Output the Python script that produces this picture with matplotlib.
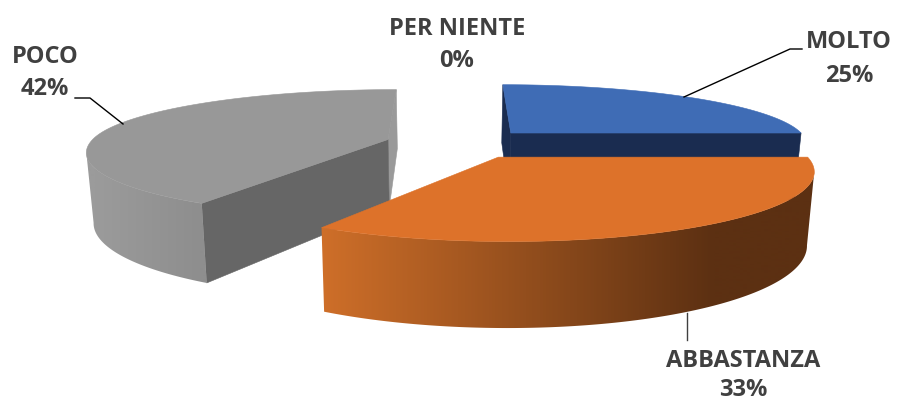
import numpy as np
import matplotlib.pyplot as plt
from matplotlib.colors import to_rgb, LinearSegmentedColormap
from matplotlib.patches import Polygon

categories = ['MOLTO', 'ABBASTANZA', 'POCO', 'PER NIENTE']
values = [25, 33.49, 41.51, 0.0]
percent_labels = ['25%', '33%', '42%', '0%']

top_colors = ['#3f6cb5', '#dd722a', '#989898']
inner_colors = ['#1a2c50', '#5c3012', '#666666']
back_colors = ['#1a2c50', '#5c3012', '#9a9a9a']
side_left = [None, '#cf6f29', '#9b9b9b']
side_right = [None, '#5c3012', '#8e8e8e']
# where the side gradient starts and stops, pixels
side_span = [None, (320, 715), (95, 200)]

# 3d look of the pie, all in pixels
vanish_x = 450
horizon = -236
ground = 436
center_x = 11
radius = 343
explode = 86
persp_back = 0.178
persp_front = 0.196
persp_base = 1.149
persp_explode = 0.046 / 86
height = 79
bottom_shrink = 0.98


def project(a, cos_part, shift_a, shift_b):
    # a is across, cos_part is +1 at the back of the circle
    k = np.where(cos_part > 0, persp_back, persp_front)
    w = persp_base + shift_b * persp_explode + cos_part * k
    s = 1 / w
    x = vanish_x + (center_x + shift_a + a * radius) * s
    y = horizon + ground * s
    return x, y, s


def drop(x, y, s):
    # same point on the lower face of the pie
    return vanish_x + (x - vanish_x) * bottom_shrink, y + height * s


fig = plt.figure(figsize=(8.98, 4.03), dpi=100)
ax = fig.add_axes([0, 0, 1, 1])

bounds = np.cumsum([0] + values) / np.sum(values) * 360
z = 1


def flat_face(xs, ys, color):
    global z
    ax.fill(xs, ys, color=color, lw=0.4, zorder=z)
    z += 1


# back slices first, orange is the nearest one
for i in [2, 0, 1]:
    t0 = np.radians(bounds[i])
    t1 = np.radians(bounds[i + 1])
    mid = (t0 + t1) / 2
    sa = explode * np.sin(mid)
    sb = explode * np.cos(mid)
    t = np.linspace(t0, t1, 200)
    x, y, s = project(np.sin(t), np.cos(t), sa, sb)
    ax0, ay0, as0 = project(0.0, np.array(0.0), sa, sb)
    bx, by = drop(x, y, s)
    abx, aby = drop(ax0, ay0, as0)

    # flat cut faces
    if i == 0:
        flat_face([ax0, x[0], bx[0], abx], [ay0, y[0], by[0], aby], back_colors[i])
        flat_face([ax0, x[-1], bx[-1], abx], [ay0, y[-1], by[-1], aby], inner_colors[i])
    if i == 2:
        flat_face([ax0, x[-1], bx[-1], abx], [ay0, y[-1], by[-1], aby], back_colors[i])
        flat_face([ax0, x[0], bx[0], abx], [ay0, y[0], by[0], aby], inner_colors[i])

    # round outer side with a left to right gradient, cut at the widest point of the rim
    if i != 0:
        if i == 1:
            keep = np.arange(np.argmax(x), len(x))
        else:
            keep = np.arange(0, np.argmin(x) + 1)
        pts = np.c_[np.r_[x[keep], bx[keep][::-1]], np.r_[y[keep], by[keep][::-1]]]
        x0, x1 = side_span[i]
        cmap = LinearSegmentedColormap.from_list('side', [to_rgb(side_left[i]), to_rgb(side_right[i])])
        xx = np.arange(0, 899)
        grad = np.clip((xx - x0) / (x1 - x0), 0, 1)[None, :]
        im = ax.imshow(grad, extent=(0, 898, 403, 0), aspect='auto', cmap=cmap, vmin=0, vmax=1, zorder=z)
        im.set_clip_path(Polygon(pts, transform=ax.transData))
        z += 1

    # top face
    flat_face(np.r_[ax0, x], np.r_[ay0, y], top_colors[i])

ax.set_xlim(0, 898)
ax.set_ylim(403, 0)
ax.axis('off')

# text and leader lines
text_color = '#404040'
label_x = [849, 743, 45, 457]
label_y = [42, 361, 57, 29]
percent_y = [76, 390, 89, 61]
for name, pct, lx, ly, py in zip(categories, percent_labels, label_x, label_y, percent_y):
    ax.text(lx, ly, name, ha='center', va='center', fontsize=17, fontweight='bold',
            family='Open Sans', color=text_color, zorder=z)
    ax.text(lx, py, pct, ha='center', va='center', fontsize=17, fontweight='bold',
            family='Open Sans', color=text_color, zorder=z)

ax.plot([802, 790, 684], [49, 49, 97], color='black', lw=1, zorder=z)
ax.plot([75, 90, 123], [98, 98, 124], color='black', lw=1, zorder=z)
ax.plot([687, 687], [313, 340], color='#404040', lw=1, zorder=0)

fig.savefig('out.png', dpi=100)
